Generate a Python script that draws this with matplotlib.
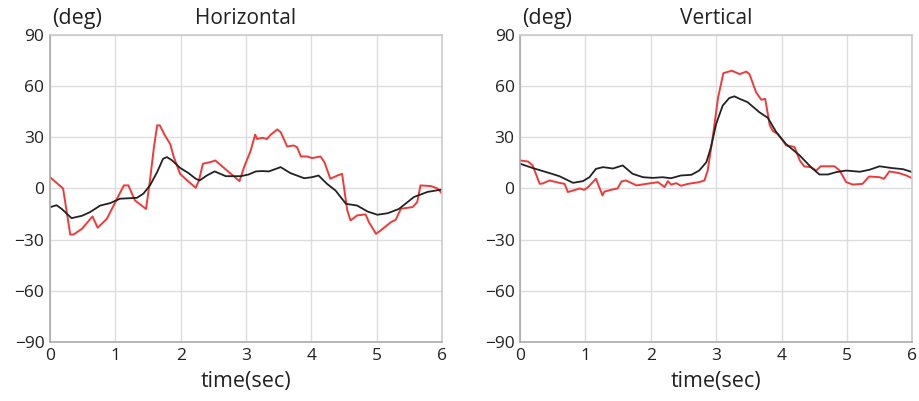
import matplotlib.pyplot as plt

plt.rcParams['font.family'] = ['Open Sans', 'DejaVu Sans']

# Horizontal panel
h_red_t = [0, 0.2, 0.31, 0.36, 0.49, 0.65, 0.73, 0.87, 1.0, 1.13, 1.2, 1.3, 1.47, 1.53, 1.59,
           1.64, 1.68, 1.76, 1.84, 1.89, 1.99, 2.1, 2.23, 2.28, 2.34, 2.45, 2.53, 2.71, 2.9,
           2.97, 3.07, 3.14, 3.17, 3.25, 3.32, 3.38, 3.48, 3.53, 3.63, 3.73, 3.78, 3.84, 3.94,
           4.01, 4.14, 4.2, 4.29, 4.4, 4.47, 4.55, 4.6, 4.7, 4.83, 4.88, 4.99, 5.06, 5.22,
           5.29, 5.37, 5.55, 5.62, 5.67, 5.83, 5.93, 6.0]
h_red_v = [6.6, 0, -27, -27, -23.6, -16.4, -23, -17.8, -8, 1.8, 1.8, -7, -12, 4.7, 24,
           37, 37, 31, 26, 19, 8.6, 4.7, 0.4, 4.7, 14.5, 15.4, 16.4, 10.5, 4.3,
           12.5, 22, 31.6, 29, 29.7, 29, 31.6, 34.6, 33, 24.6, 25.2, 24.2, 18.75, 18.75,
           17.8, 18.75, 15.4, 5.7, 7.6, 8.6, -12.9, -18.75, -15.8, -15.2, -19.7, -26.6, -24.6, -19.7,
           -18.4, -11.9, -10.9, -8, 1.8, 1.4, 0, -3]
h_blk_t = [0, 0.1, 0.18, 0.33, 0.49, 0.61, 0.77, 0.92, 1.07, 1.33, 1.43, 1.53, 1.64, 1.73, 1.79,
           1.87, 1.99, 2.12, 2.23, 2.29, 2.4, 2.52, 2.69, 2.92, 3.04, 3.15, 3.25, 3.35, 3.53,
           3.68, 3.89, 4.01, 4.11, 4.24, 4.37, 4.53, 4.7, 4.86, 5.01, 5.17, 5.34, 5.57, 5.78, 6.0]
h_blk_v = [-11, -9.8, -12, -17.4, -16, -13.9, -10, -8.6, -6, -5.5, -3, 1.8, 9.6, 17.4, 18.4,
           16.4, 12.1, 9, 5.7, 4.7, 7.6, 10, 7.2, 7.2, 8.2, 10, 10.2, 10, 12.5,
           9, 6, 6.6, 7.6, 2.7, -1.2, -9, -10, -13.5, -15.4, -14.5, -12, -5, -2, -0.6]

# Vertical panel
v_red_t = [0, 0.12, 0.19, 0.3, 0.35, 0.45, 0.6, 0.68, 0.73, 0.81, 0.91, 0.98, 1.04, 1.16, 1.21,
           1.26, 1.29, 1.39, 1.49, 1.55, 1.62, 1.78, 1.93, 2.11, 2.21, 2.26, 2.31, 2.39, 2.46,
           2.57, 2.74, 2.82, 2.87, 2.94, 3.03, 3.11, 3.24, 3.36, 3.46, 3.51, 3.61, 3.69, 3.75,
           3.82, 3.87, 3.94, 4.02, 4.07, 4.17, 4.2, 4.28, 4.35, 4.45, 4.53, 4.6, 4.81, 4.89,
           4.99, 5.09, 5.24, 5.34, 5.5, 5.57, 5.65, 5.8, 5.91, 6.0]
v_red_v = [16.4, 15.8, 13.5, 2.7, 3, 4.7, 3.3, 2.7, -2.1, -1.2, 0, -0.8, 0.8, 5.7, 0.8,
           -4.1, -1.8, -0.8, 0, 4.1, 4.7, 1.8, 2.7, 3.7, 0.8, 4.3, 2.3, 3.1, 1.6,
           2.7, 3.7, 4.7, 10.5, 28, 53.5, 67.6, 69, 67, 68.5, 67, 56.4, 52, 52.5,
           37, 33.6, 32, 28, 25.2, 24.6, 24.2, 16.4, 12.9, 12.5, 10.5, 13, 13, 10.5,
           3.7, 2.3, 2.7, 7, 6.6, 5.7, 10, 9, 7.6, 6]
v_blk_t = [0, 0.19, 0.45, 0.6, 0.81, 0.96, 1.06, 1.16, 1.27, 1.42, 1.57, 1.72, 1.88, 2.03, 2.18,
           2.31, 2.46, 2.62, 2.74, 2.85, 2.92, 3.0, 3.1, 3.2, 3.28, 3.36, 3.48, 3.66, 3.79,
           3.92, 4.07, 4.28, 4.45, 4.58, 4.71, 4.84, 4.99, 5.2, 5.35, 5.5, 5.68, 5.86, 6.0]
v_blk_v = [14.5, 12, 9, 7.2, 3.3, 4.3, 6.6, 11.5, 12.5, 11.7, 13.5, 8.6, 6.6, 6.2, 6.6,
           6, 7.6, 8, 10.5, 15.4, 24.2, 37.9, 48.6, 53, 54, 52.5, 50.6, 44.7, 41.4,
           33, 26, 19.3, 12.5, 8.2, 8.2, 9.6, 10.5, 9.8, 11, 13, 12, 11.3, 9.6]

panels = [
    ("Horizontal", h_red_t, h_red_v, h_blk_t, h_blk_v),
    ("Vertical", v_red_t, v_red_v, v_blk_t, v_blk_v),
]

fig = plt.figure(figsize=(9.19, 4.01), dpi=100)
boxes = [[0.0544, 0.147, 0.4266, 0.766], [0.566, 0.147, 0.4266, 0.766]]

for box, (title, rt, rv, bt, bv) in zip(boxes, panels):
    ax = fig.add_axes(box)
    ax.plot(rt, rv, color='#f03a3a', lw=1.4)
    ax.plot(bt, bv, color='#222222', lw=1.3)
    ax.set_xlim(0, 6)
    ax.set_ylim(-90, 90)
    ax.set_xticks(range(0, 7))
    ax.set_yticks(range(-90, 91, 30))
    ax.set_yticklabels(['\u221290', '\u221260', '\u221230', '0', '30', '60', '90'])
    ax.grid(True, color='#dddddd', lw=1)
    ax.tick_params(length=0, pad=4, labelsize=12.5, colors='#222222')
    for side in ['top', 'right']:
        ax.spines[side].set_color('#cccccc')
    for side in ['left', 'bottom']:
        ax.spines[side].set_color('#aaaaaa')
    for s in ax.spines.values():
        s.set_linewidth(1.2)
    ax.set_xlabel('time(sec)', fontsize=15.5, labelpad=5, color='#222222')
    ax.text(0.5, 1.02, title, transform=ax.transAxes, ha='center', va='bottom',
            fontsize=15, color='#222222')
    ax.text(0.005, 1.02, '(deg)', transform=ax.transAxes, ha='left', va='bottom',
            fontsize=15.5, color='#222222')

fig.savefig('out.png', dpi=100, facecolor='white')
